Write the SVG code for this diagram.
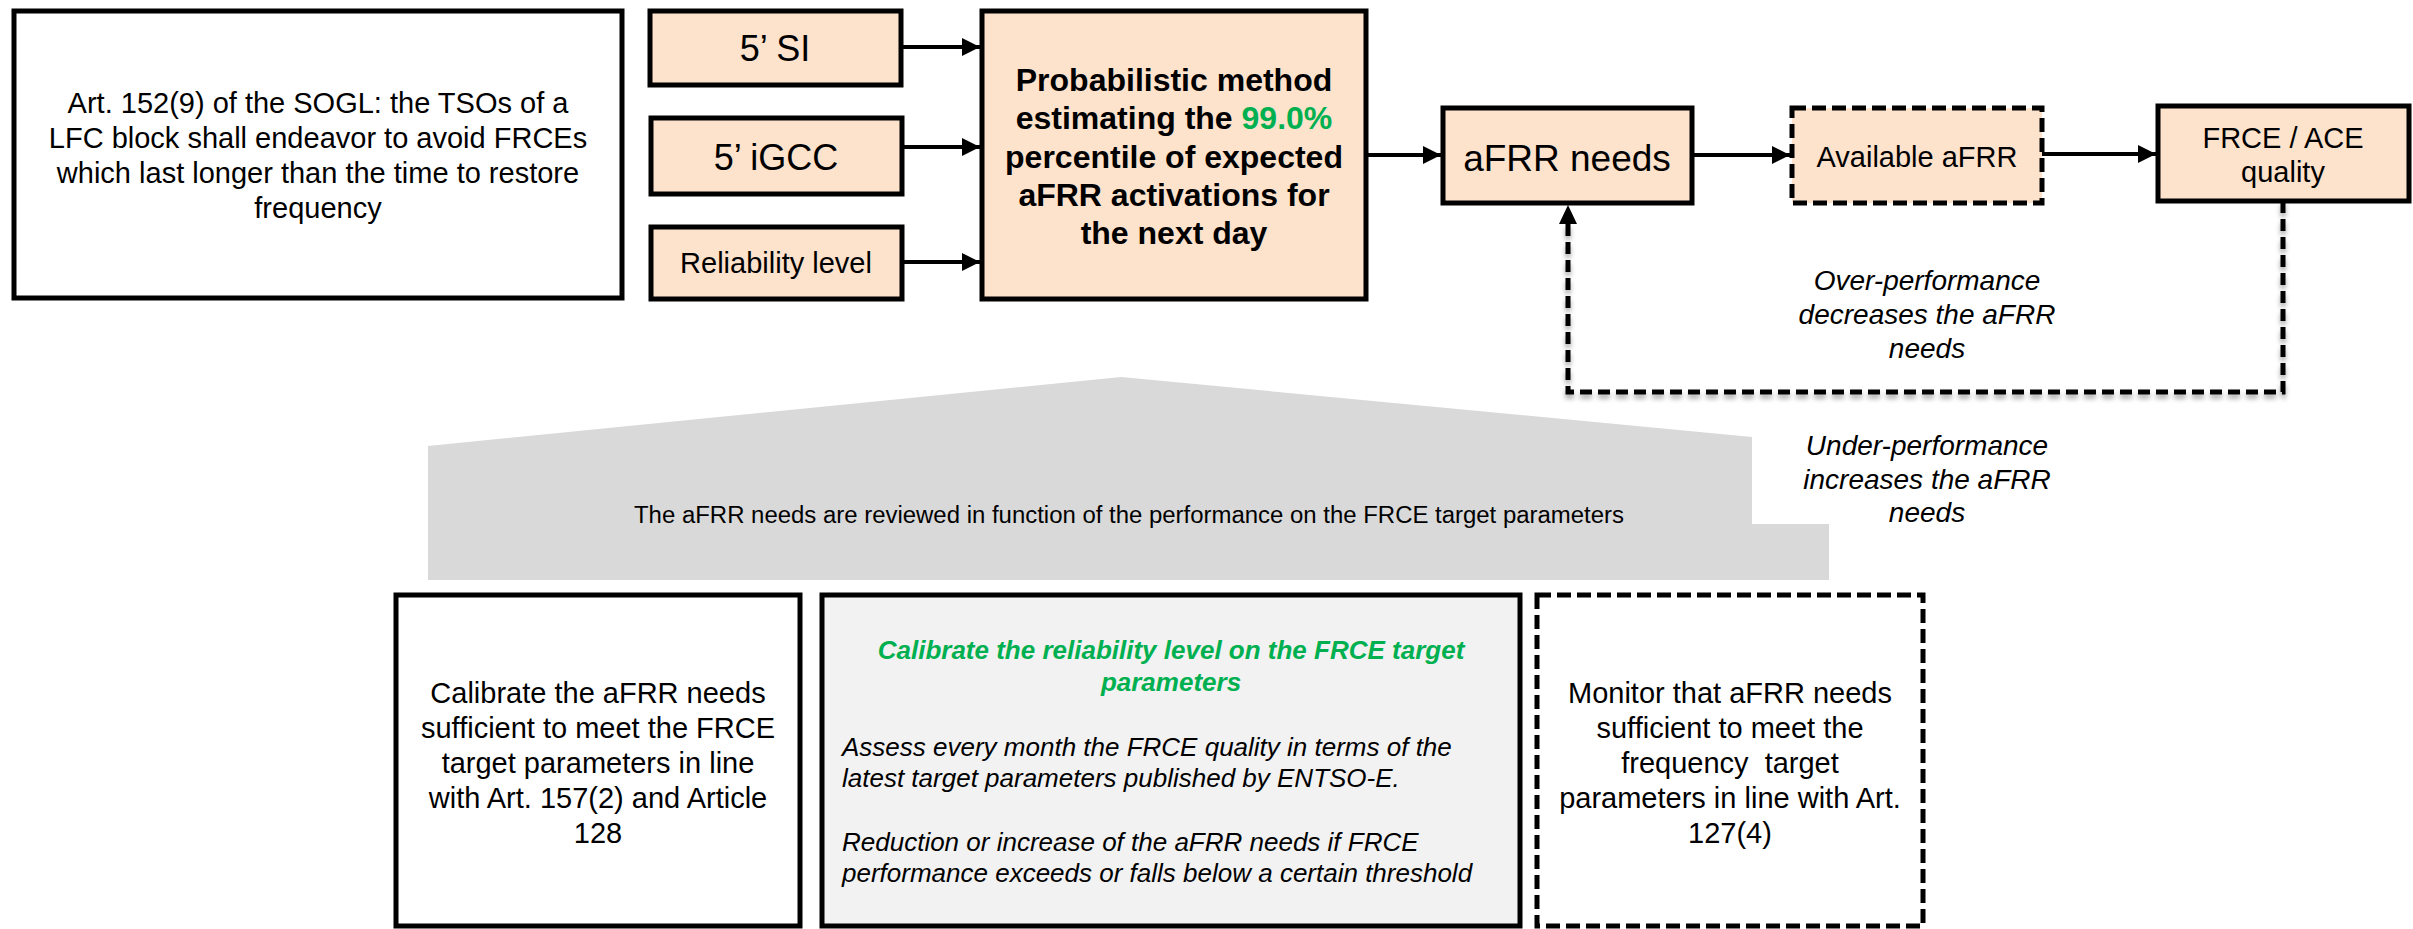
<svg xmlns="http://www.w3.org/2000/svg" width="2413" height="929" viewBox="0 0 2413 929">
<defs>
<marker id="ah" markerUnits="userSpaceOnUse" markerWidth="20" markerHeight="18" refX="18" refY="9" orient="auto">
<path d="M0,0 L18,9 L0,18 Z" fill="#000"/>
</marker>
<filter id="sh" x="-5%" y="-5%" width="110%" height="130%">
<feDropShadow dx="0" dy="4" stdDeviation="2.5" flood-color="#000" flood-opacity="0.35"/>
</filter>
</defs>
<style>
text{font-family:"Liberation Sans",Arial,sans-serif;fill:#000;text-anchor:middle}
.box{stroke:#000;stroke-width:5}
.peach{fill:#fde2cc}
.dash{stroke-dasharray:14 6}
.conn{stroke:#000;stroke-width:4;fill:none;marker-end:url(#ah)}
.fb{stroke:#000;stroke-width:5;fill:none;stroke-dasharray:12 6}
.it{font-style:italic}
.b{font-weight:bold}
.g{fill:#00b050}
</style>
<rect width="2413" height="929" fill="#fff"/>

<g id="house">
<path d="M428,446 L1121,377 L1752,437 L1752,524 L1829,524 L1829,580 L428,580 Z" fill="#d9d9d9"/>
<text x="1129" y="523" font-size="23" textLength="990" lengthAdjust="spacingAndGlyphs">The aFRR needs are reviewed in function of the performance on the FRCE target parameters</text>
</g>

<g id="sogl">
<rect class="box" x="14" y="11" width="608" height="287" fill="#fff"/>
<text font-size="29"><tspan x="318" y="113">Art. 152(9) of the SOGL: the TSOs of a</tspan><tspan x="318" y="148">LFC block shall endeavor to avoid FRCEs</tspan><tspan x="318" y="183">which last longer than the time to restore</tspan><tspan x="318" y="218">frequency</tspan></text>
</g>

<g id="si">
<rect class="box peach" x="650" y="11" width="251" height="74"/>
<text x="775" y="61" font-size="36">5’ SI</text>
</g>
<g id="igcc">
<rect class="box peach" x="651" y="118" width="251" height="76"/>
<text x="776" y="170" font-size="36">5’ iGCC</text>
</g>
<g id="rel">
<rect class="box peach" x="651" y="227" width="251" height="72"/>
<text x="776" y="273" font-size="29">Reliability level</text>
</g>

<g id="prob">
<rect class="box peach" x="982" y="11" width="384" height="288"/>
<text font-size="32" class="b"><tspan x="1174" y="91">Probabilistic method</tspan><tspan x="1174" y="129">estimating the <tspan class="g">99.0%</tspan></tspan><tspan x="1174" y="168">percentile of expected</tspan><tspan x="1174" y="206">aFRR activations for</tspan><tspan x="1174" y="244">the next day</tspan></text>
</g>

<g id="needs">
<rect class="box peach" x="1443" y="108" width="249" height="95"/>
<text x="1567" y="171" font-size="37">aFRR needs</text>
</g>

<g id="avail">
<rect class="box peach dash" x="1792" y="108" width="250" height="95"/>
<text x="1917" y="167" font-size="29">Available aFRR</text>
</g>

<g id="frce">
<rect class="box peach" x="2158" y="106" width="251" height="95"/>
<text font-size="29"><tspan x="2283" y="148">FRCE / ACE</tspan><tspan x="2283" y="182">quality</tspan></text>
</g>

<g id="labels">
<text font-size="28" class="it"><tspan x="1927" y="290">Over-performance</tspan><tspan x="1927" y="324">decreases the aFRR</tspan><tspan x="1927" y="358">needs</tspan></text>
<text font-size="28" class="it"><tspan x="1927" y="455">Under-performance</tspan><tspan x="1927" y="489">increases the aFRR</tspan><tspan x="1927" y="522">needs</tspan></text>
</g>

<g id="calib">
<rect class="box" x="396" y="595" width="404" height="331" fill="#fff"/>
<text font-size="29"><tspan x="598" y="703">Calibrate the aFRR needs</tspan><tspan x="598" y="738">sufficient to meet the FRCE</tspan><tspan x="598" y="773">target parameters in line</tspan><tspan x="598" y="808">with Art. 157(2) and Article</tspan><tspan x="598" y="843">128</tspan></text>
</g>

<g id="rellevel">
<rect class="box" x="822" y="595" width="698" height="331" fill="#f2f2f2"/>
<text font-size="26" class="b it g"><tspan x="1171" y="659">Calibrate the reliability level on the FRCE target</tspan><tspan x="1171" y="691">parameters</tspan></text>
<text font-size="26" class="it" style="text-anchor:start"><tspan x="842" y="756">Assess every month the FRCE quality in terms of the</tspan><tspan x="842" y="787">latest target parameters published by ENTSO-E.</tspan><tspan x="842" y="851">Reduction or increase of the aFRR needs if FRCE</tspan><tspan x="842" y="882">performance exceeds or falls below a certain threshold</tspan></text>
</g>

<g id="monitor">
<rect class="box dash" x="1537" y="595" width="386" height="331" fill="#fff"/>
<text font-size="29"><tspan x="1730" y="703">Monitor that aFRR needs</tspan><tspan x="1730" y="738">sufficient to meet the</tspan><tspan x="1730" y="773" xml:space="preserve">frequency  target</tspan><tspan x="1730" y="808">parameters in line with Art.</tspan><tspan x="1730" y="843">127(4)</tspan></text>
</g>

<g id="connectors">
<line class="conn" x1="901" y1="47" x2="980" y2="47"/>
<line class="conn" x1="902" y1="147" x2="980" y2="147"/>
<line class="conn" x1="902" y1="262" x2="980" y2="262"/>
<line class="conn" x1="1366" y1="155" x2="1441" y2="155"/>
<line class="conn" x1="1692" y1="155" x2="1790" y2="155"/>
<line class="conn" x1="2042" y1="154" x2="2156" y2="154"/>
<path class="fb" filter="url(#sh)" d="M2283,201 L2283,392 L1568,392 L1568,222"/>
<path d="M1568,205 L1577,224 L1559,224 Z" fill="#000"/>
</g>
</svg>
